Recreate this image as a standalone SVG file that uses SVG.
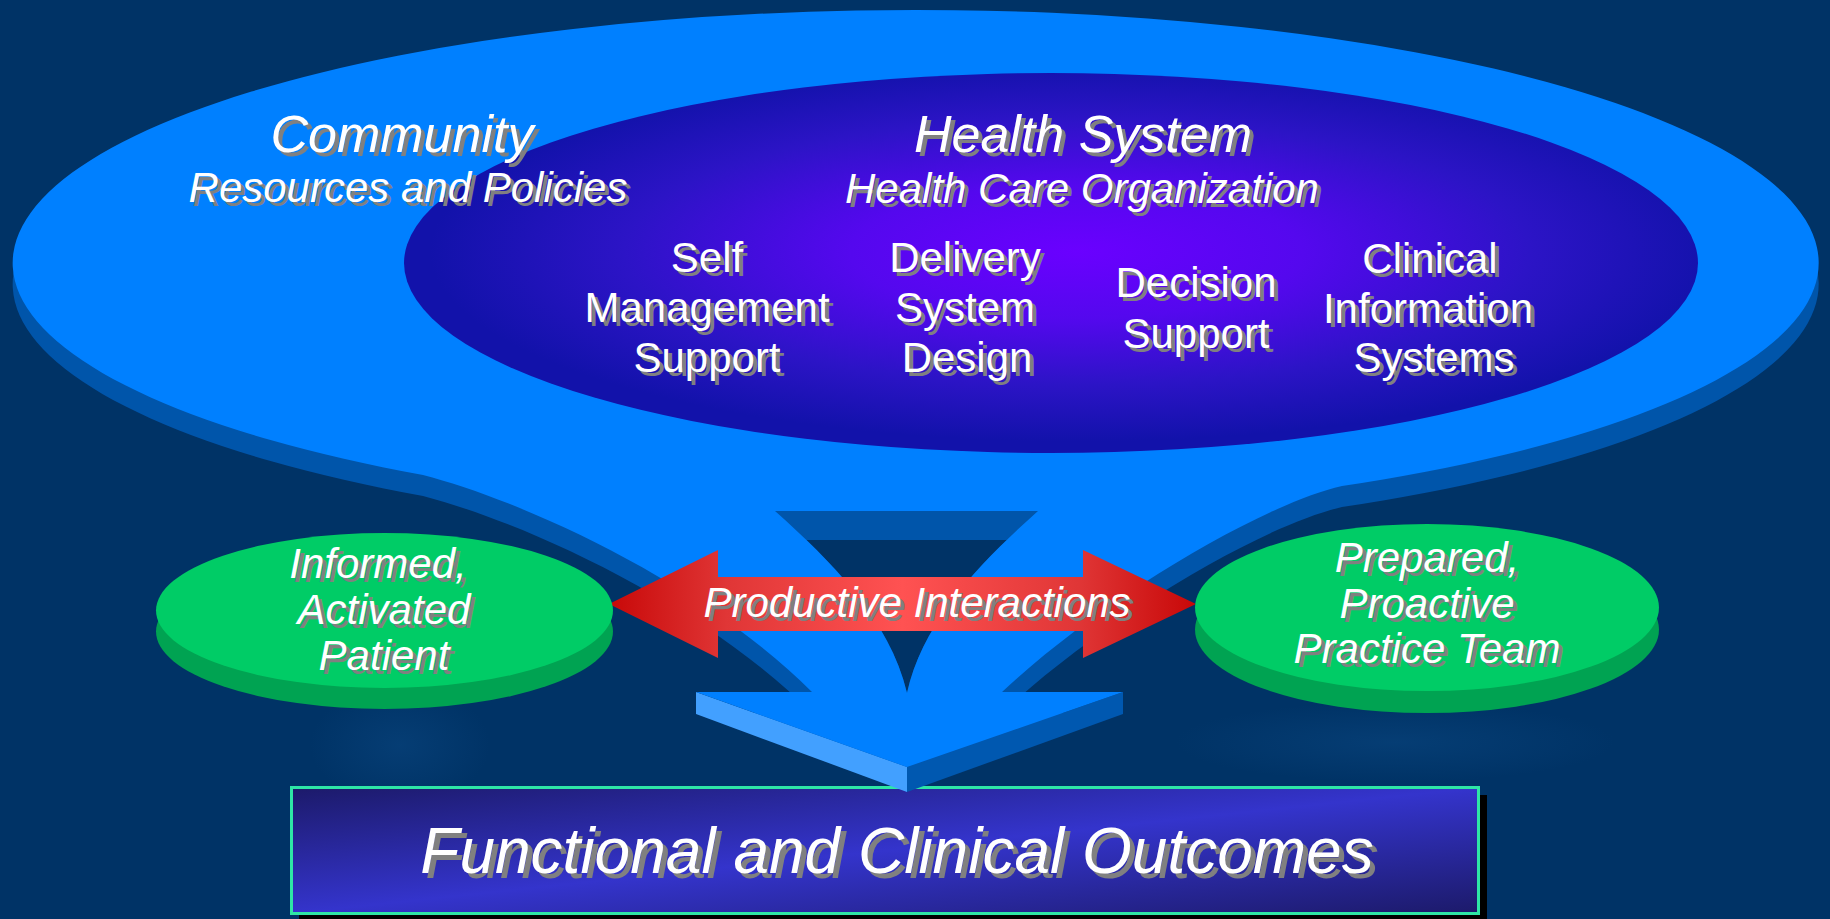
<svg xmlns="http://www.w3.org/2000/svg" width="1830" height="919" viewBox="0 0 1830 919">
  <defs>
    <radialGradient id="hsFill" cx="0.52" cy="0.47" r="0.5">
      <stop offset="0" stop-color="#6a00ff"/>
      <stop offset="0.35" stop-color="#5408ee"/>
      <stop offset="0.7" stop-color="#2c14c6"/>
      <stop offset="1" stop-color="#1212aa"/>
    </radialGradient>
    <linearGradient id="redFill" gradientUnits="userSpaceOnUse" x1="609" y1="0" x2="1196" y2="0">
      <stop offset="0" stop-color="#c80808"/>
      <stop offset="0.2" stop-color="#e03636"/>
      <stop offset="0.5" stop-color="#ff5252"/>
      <stop offset="0.8" stop-color="#e03636"/>
      <stop offset="1" stop-color="#c80808"/>
    </linearGradient>
    <linearGradient id="boxFill" x1="0" y1="0" x2="1" y2="1">
      <stop offset="0" stop-color="#1c1a6a"/>
      <stop offset="0.5" stop-color="#3434cc"/>
      <stop offset="1" stop-color="#1c1a6a"/>
    </linearGradient>
    <radialGradient id="ghost" cx="0.5" cy="0.5" r="0.5">
      <stop offset="0" stop-color="#0a4680" stop-opacity="0.55"/>
      <stop offset="1" stop-color="#0a4680" stop-opacity="0"/>
    </radialGradient>

    <!-- outline of the community plate: ellipse, funnel and arrow head -->
    <path id="plate" d="M423,475 A903,253 0 1 1 1342,486 C1260,505 1100,600 1002,692 L1123,692 L907,767 L696,692 L812,692 C700,580 520,500 423,475 Z"/>
    <!-- opening inside the funnel -->
    <path id="hole" d="M775,511 L1038,511 C983,560 923,620 907,693 C890,620 830,560 775,511 Z"/>
    <clipPath id="holeClip"><use href="#hole"/></clipPath>

    <!-- labels (drawn twice: grey drop shadow, then white) -->
    <text id="tx-community" class="t i" x="402" y="152" font-size="52">Community</text>
    <text id="tx-resources" class="t i" x="408" y="202" font-size="42">Resources and Policies</text>
    <text id="tx-health" class="t i" x="1083" y="152" font-size="52">Health System</text>
    <text id="tx-hco" class="t i" x="1082" y="203" font-size="42">Health Care Organization</text>
    <text id="tx-self" class="t" font-size="42"><tspan x="707" y="272">Self</tspan><tspan x="707" y="322">Management</tspan><tspan x="707" y="372">Support</tspan></text>
    <text id="tx-delivery" class="t" font-size="42"><tspan x="965" y="272">Delivery</tspan><tspan x="965" y="322">System</tspan><tspan x="967" y="372">Design</tspan></text>
    <text id="tx-decision" class="t" font-size="42"><tspan x="1196" y="297">Decision</tspan><tspan x="1196" y="348">Support</tspan></text>
    <text id="tx-clinical" class="t" font-size="42"><tspan x="1430" y="273">Clinical</tspan><tspan x="1428" y="323">Information</tspan><tspan x="1434" y="372">Systems</tspan></text>
    <text id="tx-interactions" class="t i" x="917" y="617" font-size="42">Productive Interactions</text>
    <text id="tx-patient" class="t i" font-size="42"><tspan x="378" y="578">Informed,</tspan><tspan x="384" y="624">Activated</tspan><tspan x="384" y="670">Patient</tspan></text>
    <text id="tx-team" class="t i" font-size="42"><tspan x="1427" y="572">Prepared,</tspan><tspan x="1427" y="618">Proactive</tspan><tspan x="1427" y="663">Practice Team</tspan></text>
    <text id="tx-outcomes" class="t i" x="897" y="873" font-size="64">Functional and Clinical Outcomes</text>
  </defs>

  <style>
    .t { font-family: "Liberation Sans", Arial, sans-serif; text-anchor: middle; }
    .i { font-style: italic; }
    .sh { fill: #808080; }
    .fg { fill: #ffffff; }
    .plate-side { fill: #0055aa; }
    .plate-top { fill: #0080ff; }
    .disc-side { fill: #00a352; }
    .disc-top { fill: #00cc66; }
  </style>

  <!-- backdrop with a couple of faint lighter patches -->
  <rect x="0" y="0" width="1830" height="919" fill="#003366"/>
  <ellipse cx="1395" cy="742" rx="220" ry="40" fill="url(#ghost)"/>
  <ellipse cx="400" cy="745" rx="90" ry="60" fill="url(#ghost)"/>

  <!-- outcomes box -->
  <g id="outcomes">
    <rect x="299" y="795" width="1188" height="127" fill="#000000"/>
    <rect x="291.5" y="787.5" width="1187" height="126" fill="url(#boxFill)" stroke="#2ee6a6" stroke-width="3"/>
    <use href="#tx-outcomes" class="sh" transform="translate(5,5)"/>
    <use href="#tx-outcomes" class="fg"/>
  </g>

  <!-- community plate with funnel down to the outcomes -->
  <g id="community">
    <use href="#plate" class="plate-side" transform="translate(0,21)"/>
    <g clip-path="url(#holeClip)">
      <use href="#hole" fill="#003366" transform="translate(0,29)"/>
    </g>
    <path d="M696,692 L907,767 L907,792 L696,714 Z" fill="#42a0ff"/>
    <path d="M1123,692 L1123,714 L907,792 L907,767 Z" fill="#0058b0"/>
    <path class="plate-top" fill-rule="evenodd" d="M423,475 A903,253 0 1 1 1342,486 C1260,505 1100,600 1002,692 L1123,692 L907,767 L696,692 L812,692 C700,580 520,500 423,475 Z M775,511 L1038,511 C983,560 923,620 907,693 C890,620 830,560 775,511 Z"/>
  </g>

  <!-- health system -->
  <g id="health-system">
    <ellipse cx="1051" cy="263" rx="647" ry="190" fill="url(#hsFill)"/>
    <use href="#tx-health" class="sh" transform="translate(4,4)"/>
    <use href="#tx-health" class="fg"/>
    <use href="#tx-hco" class="sh" transform="translate(4,4)"/>
    <use href="#tx-hco" class="fg"/>
  </g>

  <!-- community labels sit above the health system ellipse -->
  <g id="community-labels">
    <use href="#tx-community" class="sh" transform="translate(4,4)"/>
    <use href="#tx-community" class="fg"/>
    <use href="#tx-resources" class="sh" transform="translate(4,4)"/>
    <use href="#tx-resources" class="fg"/>
  </g>

  <g id="self-management">
    <use href="#tx-self" class="sh" transform="translate(4,4)"/>
    <use href="#tx-self" class="fg"/>
  </g>
  <g id="delivery-design">
    <use href="#tx-delivery" class="sh" transform="translate(4,4)"/>
    <use href="#tx-delivery" class="fg"/>
  </g>
  <g id="decision-support">
    <use href="#tx-decision" class="sh" transform="translate(4,4)"/>
    <use href="#tx-decision" class="fg"/>
  </g>
  <g id="clinical-info">
    <use href="#tx-clinical" class="sh" transform="translate(4,4)"/>
    <use href="#tx-clinical" class="fg"/>
  </g>

  <!-- connectors -->
  <g id="connectors">
    <path id="interactions" d="M609,604 L718,550 L718,577 L1083,577 L1083,550 L1196,604 L1083,658 L1083,631 L718,631 L718,658 Z" fill="url(#redFill)"/>
    <use href="#tx-interactions" class="sh" transform="translate(4,4)"/>
    <use href="#tx-interactions" class="fg"/>
  </g>

  <!-- patient -->
  <g id="patient">
    <ellipse class="disc-side" cx="384.5" cy="631.5" rx="228.5" ry="77.5"/>
    <ellipse class="disc-top" cx="384.5" cy="610.5" rx="228.5" ry="77.5"/>
    <use href="#tx-patient" class="sh" transform="translate(4,4)"/>
    <use href="#tx-patient" class="fg"/>
  </g>

  <!-- practice team -->
  <g id="practice-team">
    <ellipse class="disc-side" cx="1427" cy="629.5" rx="232" ry="83.5"/>
    <ellipse class="disc-top" cx="1427" cy="607.5" rx="232" ry="83.5"/>
    <use href="#tx-team" class="sh" transform="translate(4,4)"/>
    <use href="#tx-team" class="fg"/>
  </g>
</svg>
